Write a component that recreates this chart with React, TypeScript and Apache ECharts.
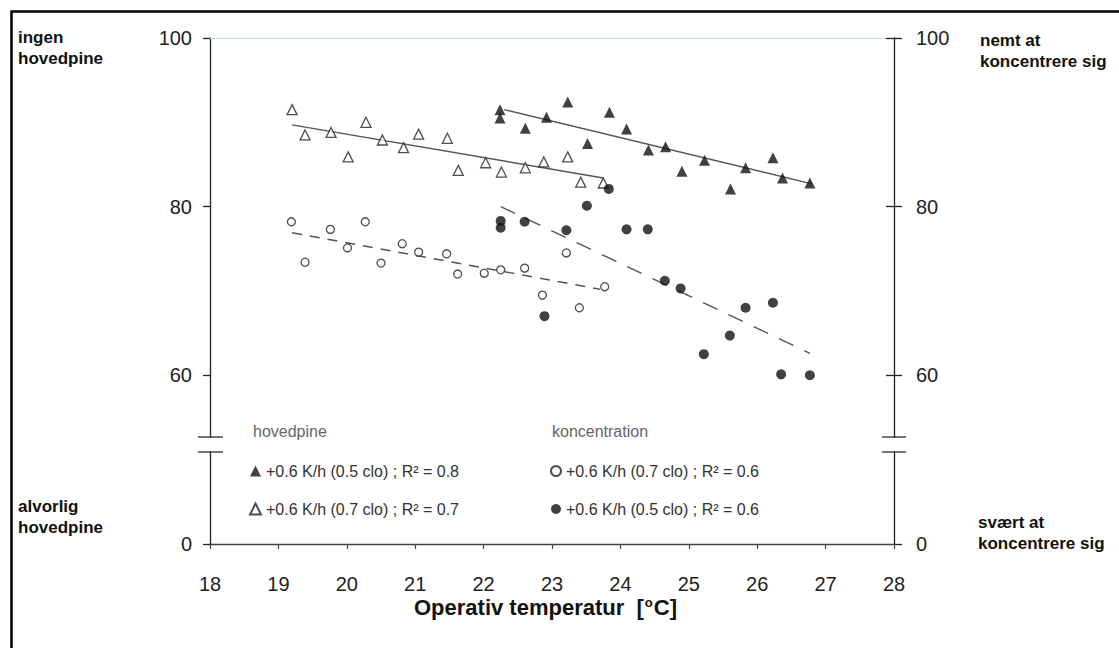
import React, { useEffect, useRef } from "react";
import * as echarts from "echarts";

// ---- data ----
const xTicks = [18, 19, 20, 21, 22, 23, 24, 25, 26, 27, 28];
const yTicksUpper = [60, 80, 100];
const yTicksLower = [0];

const nameH05 = "+0.6 K/h (0.5 clo) ; R² = 0.8";
const nameH07 = "+0.6 K/h (0.7 clo) ; R² = 0.7";
const nameK07 = "+0.6 K/h (0.7 clo) ; R² = 0.6";
const nameK05 = "+0.6 K/h (0.5 clo) ; R² = 0.6";

// headache, 0.5 clo (filled triangles)
const hovedpine05 = [
  [22.24, 91.5], [22.24, 90.5], [22.61, 89.3], [22.92, 90.6], [23.23, 92.4],
  [23.52, 87.5], [23.84, 91.2], [24.09, 89.2], [24.41, 86.7], [24.66, 87.1],
  [24.9, 84.2], [25.23, 85.5], [25.61, 82.1], [25.83, 84.6], [26.23, 85.8],
  [26.37, 83.4], [26.77, 82.8],
];
// headache, 0.7 clo (open triangles)
const hovedpine07 = [
  [19.2, 91.5], [19.39, 88.5], [19.77, 88.8], [20.02, 85.9], [20.28, 90.0],
  [20.52, 87.9], [20.83, 87.0], [21.05, 88.6], [21.47, 88.1], [21.63, 84.3],
  [22.03, 85.2], [22.26, 84.1], [22.61, 84.6], [22.88, 85.3], [23.23, 85.9],
  [23.42, 82.9], [23.75, 82.8],
];
// concentration, 0.7 clo (open circles)
const konc07 = [
  [19.19, 78.2], [19.39, 73.4], [19.76, 77.3], [20.01, 75.1], [20.27, 78.2],
  [20.5, 73.3], [20.81, 75.6], [21.05, 74.6], [21.46, 74.4], [21.62, 72.0],
  [22.01, 72.1], [22.25, 72.5], [22.6, 72.7], [22.86, 69.5], [23.21, 74.5],
  [23.4, 68.0], [23.77, 70.5],
];
// concentration, 0.5 clo (filled circles)
const konc05 = [
  [22.25, 78.3], [22.25, 77.5], [22.6, 78.2], [22.89, 67.0], [23.21, 77.2],
  [23.51, 80.1], [23.83, 82.1], [24.09, 77.3], [24.4, 77.3], [24.65, 71.2],
  [24.88, 70.3], [25.22, 62.5], [25.6, 64.7], [25.83, 68.0], [26.23, 68.6],
  [26.35, 60.1], [26.77, 60.0],
];

// regression lines (end points)
const trendH05 = [[22.3, 91.5], [26.8, 82.7]];
const trendH07 = [[19.2, 89.7], [23.75, 83.4]];
const trendK07 = [[19.2, 76.9], [23.7, 70.2]];
const trendK05 = [[22.25, 80.0], [26.77, 62.6]];

const FONT = "'Liberation Sans', Arial, sans-serif";
const INK = "#222";

export default function App() {
  const ref = useRef<HTMLDivElement>(null);

  useEffect(() => {
    if (!ref.current) return;
    const chart = echarts.init(ref.current, null, { renderer: "svg" });

    const gridLeft = 210;
    const gridRight = 225;
    const upperTop = 38;
    const upperBottomPx = 437;
    const lowerTop = 452;
    const lowerBottomPx = 544;
    const rightX = 1119 - gridRight;

    const tickStyle = { color: INK, width: 1.3 };
    const lineStyle = { color: INK, width: 1.3 };
    const labelStyle = { fontSize: 20, color: INK, fontFamily: FONT };

    const upperAxisBase = {
      gridIndex: 0,
      type: "value" as const,
      min: 52.67,
      max: 100,
      splitLine: { show: false },
    };
    const lowerAxisBase = {
      gridIndex: 1,
      type: "value" as const,
      min: 0,
      max: 10,
      splitLine: { show: false },
    };

    const scatterBase = {
      type: "scatter" as const,
      xAxisIndex: 0,
      yAxisIndex: 0,
      z: 5,
    };
    const trendBase = {
      type: "line" as const,
      xAxisIndex: 0,
      yAxisIndex: 0,
      showSymbol: false,
      symbol: "none",
      silent: true,
      z: 3,
    };

    const sideText = { fontSize: 17, fontWeight: "bold", fill: "#111", lineHeight: 21, fontFamily: FONT };
    const legendText = { fontSize: 16, color: "#333", fontFamily: FONT };

    const option = {
      animation: false,
      backgroundColor: "#fff",
      textStyle: { fontFamily: FONT },
      grid: [
        { left: gridLeft, right: gridRight, top: upperTop, height: upperBottomPx - upperTop },
        { left: gridLeft, right: gridRight, top: lowerTop, height: lowerBottomPx - lowerTop },
      ],
      xAxis: [
        {
          gridIndex: 0,
          type: "value",
          min: 18,
          max: 28,
          position: "top",
          axisLine: { show: true, onZero: false, lineStyle: { color: "#bcd2e4", type: "dotted", width: 1 } },
          axisTick: { show: false },
          axisLabel: { show: false },
          splitLine: { show: false },
        },
        {
          gridIndex: 1,
          type: "value",
          min: 18,
          max: 28,
          interval: 1,
          position: "bottom",
          axisLine: { show: true, onZero: false, lineStyle: { color: "#444", width: 1.3 } },
          axisTick: { show: true, length: 5, lineStyle: { color: "#444", width: 1.2 } },
          axisLabel: {
            ...labelStyle,
            margin: 30,
            customValues: xTicks,
          },
          splitLine: { show: false },
        },
      ],
      yAxis: [
        {
          ...upperAxisBase,
          position: "left",
          axisLine: { show: true, onZero: false, lineStyle },
          axisTick: { show: true, length: 7, customValues: yTicksUpper, lineStyle: tickStyle },
          axisLabel: { ...labelStyle, margin: 18, customValues: yTicksUpper },
        },
        {
          ...upperAxisBase,
          position: "right",
          axisLine: { show: true, onZero: false, lineStyle },
          axisTick: { show: true, length: 8, customValues: yTicksUpper, lineStyle: tickStyle },
          axisLabel: { ...labelStyle, margin: 22, customValues: yTicksUpper },
        },
        {
          ...upperAxisBase,
          position: "right",
          axisLine: { show: false },
          axisTick: { show: true, inside: true, length: 8, customValues: yTicksUpper, lineStyle: tickStyle },
          axisLabel: { show: false },
        },
        {
          ...lowerAxisBase,
          position: "left",
          axisLine: { show: true, onZero: false, lineStyle },
          axisTick: { show: true, length: 7, customValues: yTicksLower, lineStyle: tickStyle },
          axisLabel: { ...labelStyle, margin: 18, customValues: yTicksLower },
        },
        {
          ...lowerAxisBase,
          position: "right",
          axisLine: { show: true, onZero: false, lineStyle },
          axisTick: { show: true, length: 8, customValues: yTicksLower, lineStyle: tickStyle },
          axisLabel: { ...labelStyle, margin: 22, customValues: yTicksLower },
        },
      ],
      legend: [
        {
          data: [nameH05, nameH07],
          orient: "vertical",
          left: 244,
          top: 458,
          itemGap: 22,
          itemWidth: 11,
          itemHeight: 11,
          selectedMode: false,
          textStyle: legendText,
        },
        {
          data: [nameK07, nameK05],
          orient: "vertical",
          left: 545,
          top: 458,
          itemGap: 22,
          itemWidth: 10,
          itemHeight: 10,
          selectedMode: false,
          textStyle: legendText,
        },
      ],
      series: [
        {
          ...trendBase,
          name: "trend " + nameH05,
          data: trendH05,
          lineStyle: { color: "#555", width: 1.4, type: "solid" },
        },
        {
          ...trendBase,
          name: "trend " + nameH07,
          data: trendH07,
          lineStyle: { color: "#555", width: 1.4, type: "solid" },
        },
        {
          ...trendBase,
          name: "trend " + nameK07,
          data: trendK07,
          lineStyle: { color: "#555", width: 1.4, type: [10, 8] },
        },
        {
          ...trendBase,
          name: "trend " + nameK05,
          data: trendK05,
          lineStyle: { color: "#555", width: 1.4, type: [16, 12] },
        },
        {
          ...scatterBase,
          name: nameH05,
          data: hovedpine05,
          symbol: "triangle",
          symbolSize: 11,
          itemStyle: { color: "#111" },
        },
        {
          ...scatterBase,
          name: nameH07,
          data: hovedpine07,
          symbol: "triangle",
          symbolSize: 10,
          itemStyle: { color: "#fff", borderColor: "#222", borderWidth: 1.3 },
        },
        {
          ...scatterBase,
          name: nameK07,
          data: konc07,
          symbol: "circle",
          symbolSize: 8,
          itemStyle: { color: "#fff", borderColor: "#222", borderWidth: 1.3 },
        },
        {
          ...scatterBase,
          name: nameK05,
          data: konc05,
          symbol: "circle",
          symbolSize: 10,
          itemStyle: { color: "#111" },
        },
      ],
      graphic: [
        // frame (only top and left edges are visible in the reference)
        {
          type: "polyline",
          shape: { points: [[11.5, 660], [11.5, 11.5], [1130, 11.5]] },
          style: { fill: "none", stroke: "#000", lineWidth: 2.5 },
          silent: true,
        },
        // axis-break marks
        { type: "line", shape: { x1: 198, y1: upperBottomPx, x2: 223, y2: upperBottomPx }, style: { stroke: "#444", lineWidth: 1.5 } },
        { type: "line", shape: { x1: 198, y1: lowerTop, x2: 223, y2: lowerTop }, style: { stroke: "#444", lineWidth: 1.5 } },
        { type: "line", shape: { x1: rightX - 12, y1: upperBottomPx, x2: rightX + 12, y2: upperBottomPx }, style: { stroke: "#444", lineWidth: 1.5 } },
        { type: "line", shape: { x1: rightX - 12, y1: lowerTop, x2: rightX + 12, y2: lowerTop }, style: { stroke: "#444", lineWidth: 1.5 } },
        // side annotations
        { type: "text", left: 18, top: 27, style: { ...sideText, text: "ingen\nhovedpine" } },
        { type: "text", left: 18, top: 496, style: { ...sideText, text: "alvorlig\nhovedpine" } },
        { type: "text", left: 980, top: 30, style: { ...sideText, text: "nemt at\nkoncentrere sig" } },
        { type: "text", left: 978, top: 512, style: { ...sideText, text: "svært at\nkoncentrere sig" } },
        // legend group titles
        {
          type: "text",
          left: 253,
          top: 423,
          style: { text: "hovedpine", fontSize: 16, fill: "#666", fontFamily: FONT },
        },
        {
          type: "text",
          left: 552,
          top: 423,
          style: { text: "koncentration", fontSize: 16, fill: "#666", fontFamily: FONT },
        },
        // x axis title
        {
          type: "text",
          left: 414,
          top: 596,
          style: {
            text: "{t|Operativ temperatur  [}{s|o}{t|C]}",
            rich: {
              t: { fontSize: 22, fontWeight: "bold", fill: "#111", fontFamily: FONT },
              s: { fontSize: 13, fontWeight: "bold", fill: "#111", fontFamily: FONT, verticalAlign: "top", padding: [0, 1, 9, 1] },
            },
          },
        },
      ],
    };

    chart.setOption(option as any);
    return () => chart.dispose();
  }, []);

  return (
    <div
      ref={ref}
      style={{ position: "fixed", left: 0, top: 0, width: 1119, height: 648, background: "#fff" }}
    />
  );
}
